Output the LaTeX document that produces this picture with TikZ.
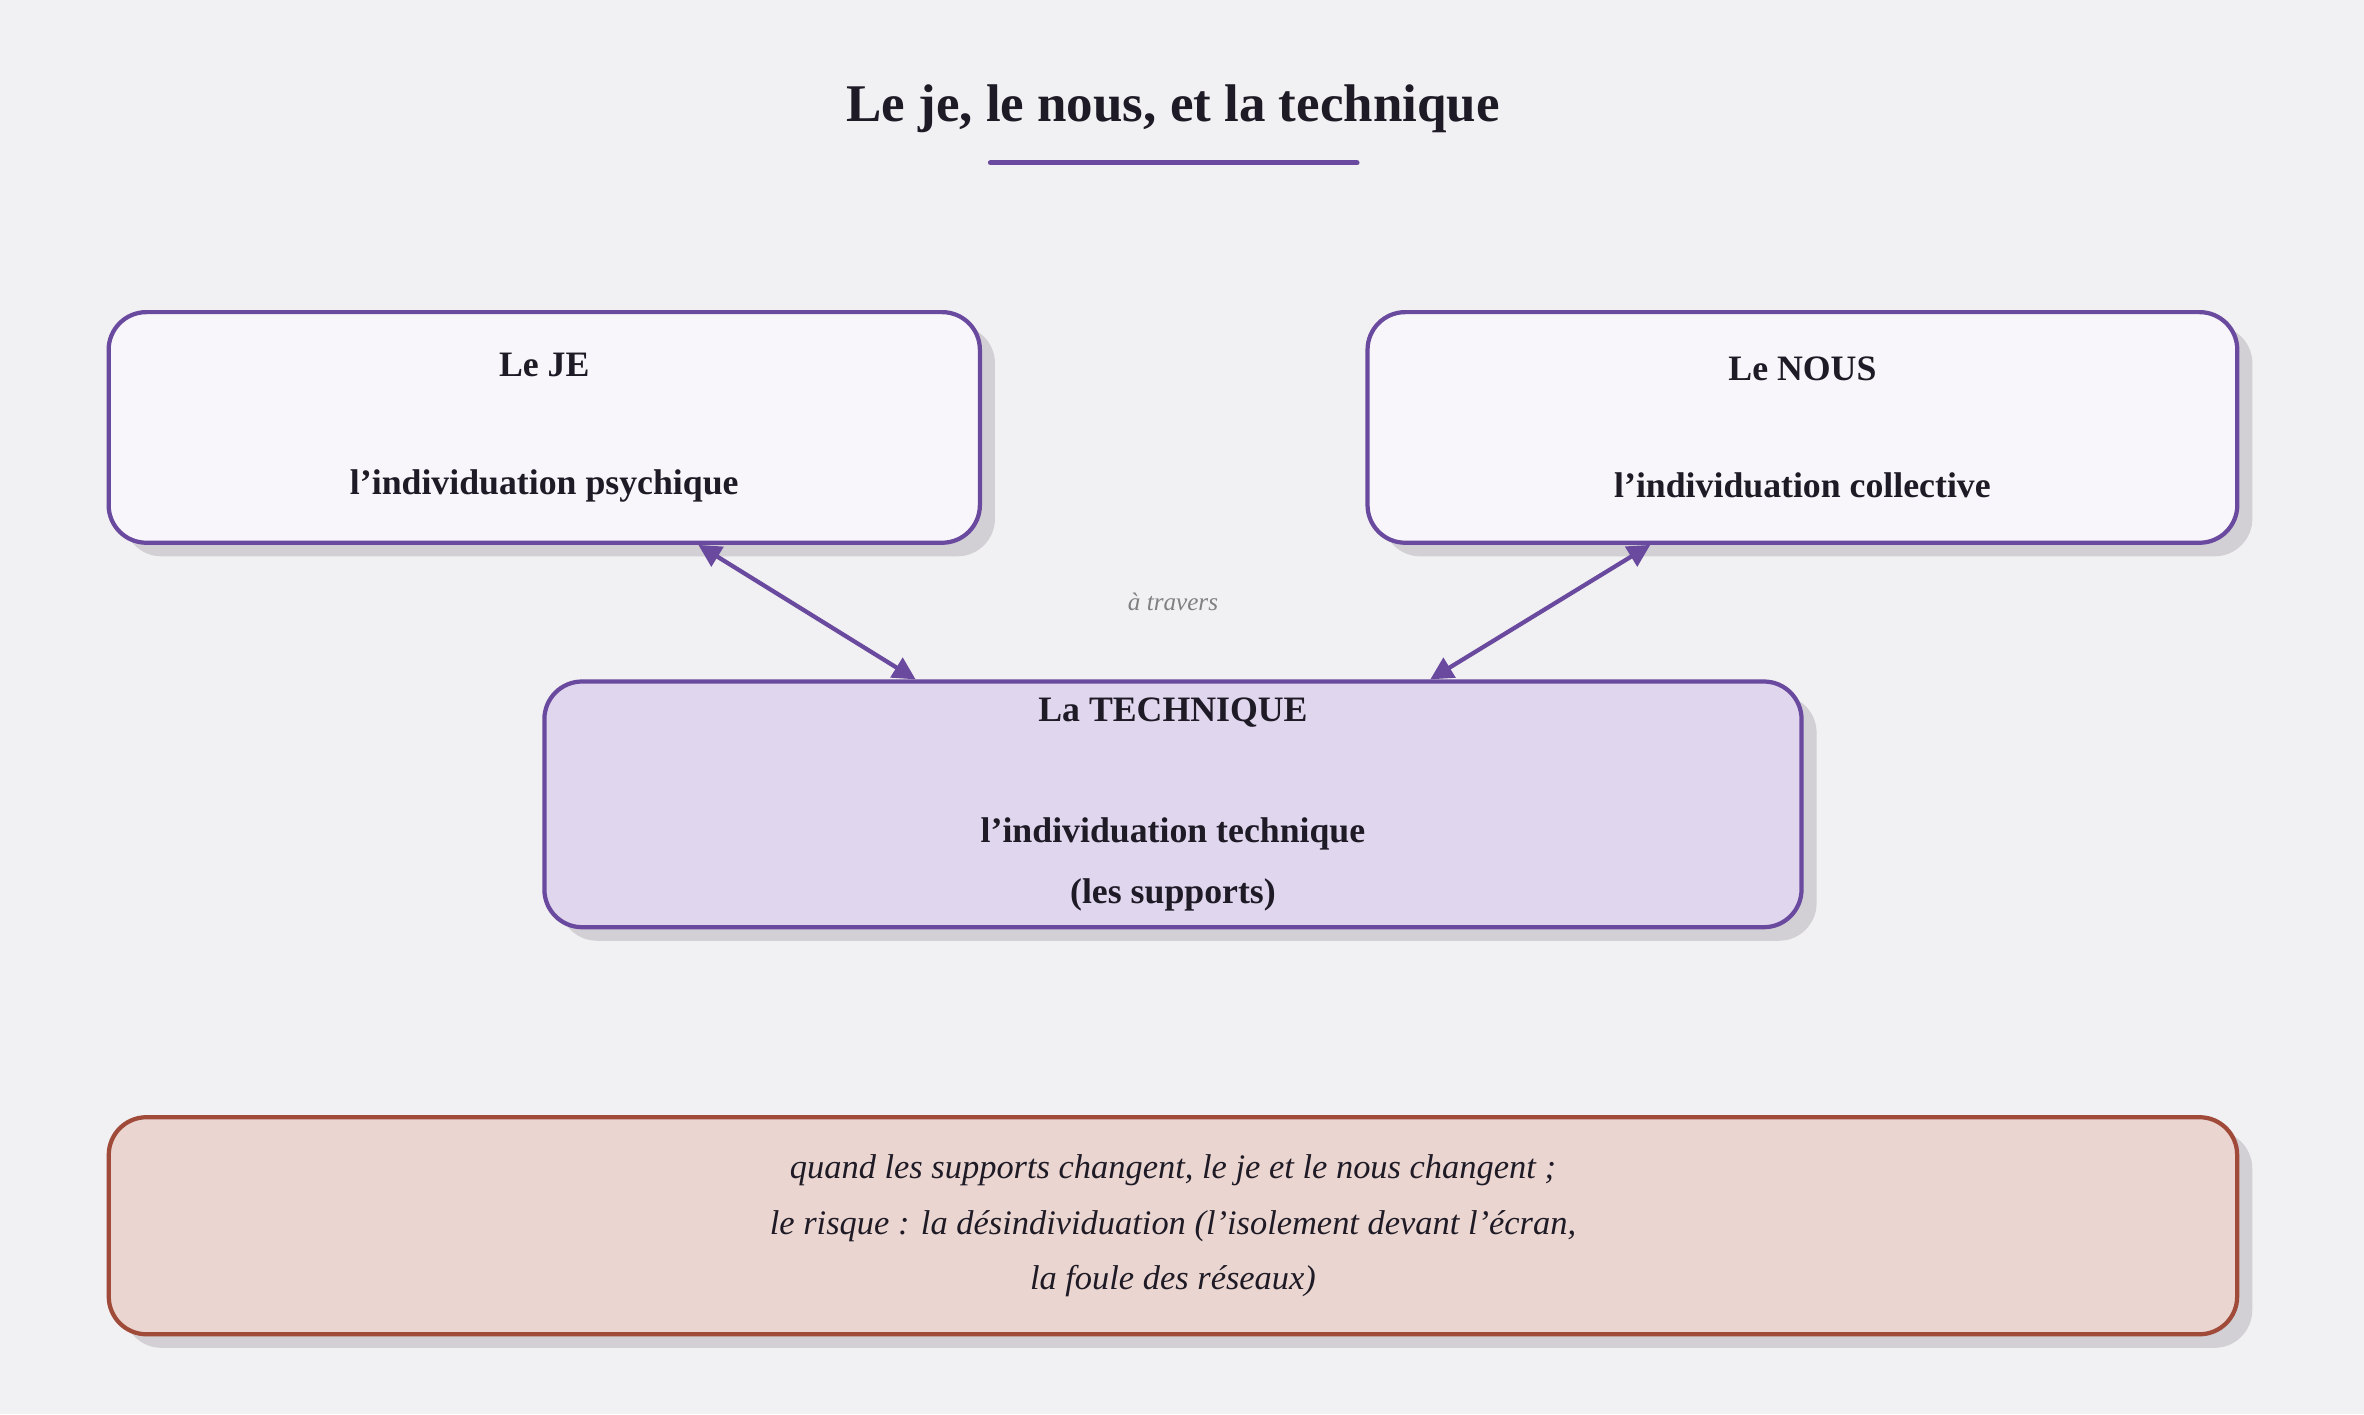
\documentclass[tikz,border=0pt]{standalone}
\usepackage{fontspec}
\setmainfont{Liberation Serif}
\usetikzlibrary{calc,shadows,arrows.meta}
\definecolor{bgcol}{HTML}{F1F0F2}
\definecolor{violet}{HTML}{6A4A9E}
\definecolor{ink}{HTML}{1E1B26}
\definecolor{techfill}{HTML}{E0D6EE}
\definecolor{boxfill}{HTML}{F8F6FA}
\definecolor{warnfill}{HTML}{EBD5D0}
\definecolor{warnline}{HTML}{A04A3A}
\definecolor{shade}{HTML}{D2CFD5}
\tikzset{
  box/.style={draw=violet, line width=1.6pt, rounded corners=0.5cm, fill=boxfill,
    text=ink, align=center, font=\bfseries\fontsize{13.5}{16}\selectfont,
    drop shadow={shadow xshift=0.2cm, shadow yshift=-0.18cm, fill=shade, opacity=1}},
  link/.style={violet, line width=1.6pt, {Triangle[length=0.3cm,width=0.3cm]}-{Triangle[length=0.3cm,width=0.3cm]}}
}
\begin{document}
\begin{tikzpicture}[x=0.02cm, y=-0.02cm]
\fill[bgcol] (0,0) rectangle (1568,938);
% title
\node[text=ink, font=\bfseries\fontsize{20}{24}\selectfont] (title) at (778,72) {Le je, le nous, et la technique};
\draw[violet, line width=2pt, line cap=round] (657,108) -- (900,108);
% boxes
\node[box, minimum width=11.56cm, minimum height=3.06cm] (je) at (361,283.5)
  {Le JE\\[1cm]l'individuation psychique};
\node[box, minimum width=11.54cm, minimum height=3.06cm] (nous) at (1195.5,283.5)
  {Le NOUS\\[1cm]l'individuation collective};
\node[box, fill=techfill, minimum width=16.68cm, minimum height=3.26cm] (tech) at (778,533.5)
  {La TECHNIQUE\\[1.05cm]l'individuation technique\\[0.25cm](les supports)};
\node[box, draw=warnline, fill=warnfill, minimum width=28.24cm, minimum height=2.88cm,
  font=\itshape\fontsize{13}{21}\selectfont] (risk) at (778,813)
  {quand les supports changent, le je et le nous changent ;\\le risque : la désindividuation (l'isolement devant l'écran,\\la foule des réseaux)};
\node[text=gray, font=\itshape\fontsize{9.5}{11}\selectfont] (via) at (778,399) {à travers};
% links
\draw[link] ($(je.south west)!0.676!(je.south east)$) -- ($(tech.north west)!0.296!(tech.north east)$);
\draw[link] ($(nous.south west)!0.326!(nous.south east)$) -- ($(tech.north west)!0.704!(tech.north east)$);
\end{tikzpicture}
\end{document}
